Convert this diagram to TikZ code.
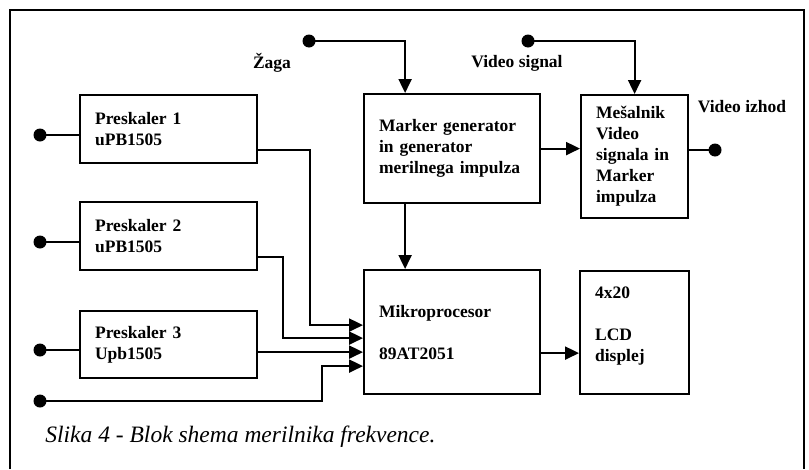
\documentclass[tikz,border=0pt]{standalone}
\usepackage{fontspec}
\setmainfont{Liberation Serif}
\usetikzlibrary{arrows.meta,positioning}

\begin{document}
\begin{tikzpicture}[x=1pt,y=-1pt,
        line width=2.2pt,
        blok/.style={draw, anchor=north west, inner xsep=15pt, inner ysep=0pt, align=left,
            font=\bfseries\fontsize{17.5}{21}\selectfont},
        pin/.style={circle, fill, minimum size=13pt, inner sep=0pt},
        arr/.style={-{Triangle[length=14pt,width=13pt]}},
        oznaka/.style={font=\bfseries\fontsize{17.5}{21}\selectfont}]

        \useasboundingbox (0,0) rectangle (809,469);

        % Draw the frame
        \draw (10,469) -- (10,10) -- (804,10) -- (804,469);

        % Draw the blocks
        \node[blok, text width=147pt, minimum height=68pt] (pre1) at (79,94) {Preskaler 1\\uPB1505};
        \node[blok, text width=147pt, minimum height=68pt] (pre2) at (79,201) {Preskaler 2\\uPB1505};
        \node[blok, text width=147pt, minimum height=67pt] (pre3) at (79,310) {Preskaler 3\\Upb1505};
        \node[blok, text width=146pt, minimum height=109pt] (marker) at (363,93) {Marker generator\\in generator\\merilnega impulza};
        \node[blok, text width=77pt, minimum height=123pt] (mesalnik) at (580,94) {Mešalnik\\Video\\signala in\\Marker\\impulza};
        \node[blok, text width=146pt, minimum height=124pt] (mikro) at (363,269) {Mikroprocesor\\[21pt]89AT2051};
        \node[blok, text width=79pt, minimum height=123pt] (lcd) at (579,270) {4x20\\[21pt]LCD\\displej\\[-4pt]\mbox{}};

        % Draw the pins
        \node[pin] (in1) at (40,135) {};
        \node[pin] (in2) at (40,242) {};
        \node[pin] (in3) at (40,350) {};
        \node[pin] (in4) at (40,401) {};
        \node[pin] (zaga) at (309,41) {};
        \node[pin] (vsig) at (528,41) {};
        \node[pin] (vout) at (715,150) {};

        % Inputs of the prescalers
        \draw (in1.center) -- (in1 -| pre1.west);
        \draw (in2.center) -- (in2 -| pre2.west);
        \draw (in3.center) -- (in3 -| pre3.west);

        % Inputs of the microprocessor
        \coordinate (m1) at ([yshift=7pt]mikro.west);
        \coordinate (m2) at ([yshift=-6pt]mikro.west);
        \coordinate (m3) at ([yshift=-20pt]mikro.west);
        \coordinate (m4) at ([yshift=-34pt]mikro.west);
        \draw[arr] ([yshift=-21pt]pre1.east) -| ([xshift=-53pt]m1) -- (m1);
        \draw[arr] ([yshift=-21pt]pre2.east) -| ([xshift=-80pt]m2) -- (m2);
        \draw[arr] (pre3.east |- m3) -- (m3);
        \draw[arr] (in4.center) -| ([xshift=-41pt]m4) -- (m4);

        % Marker generator and mixer
        \draw[arr] (zaga.center) -| ([xshift=-47pt]marker.north);
        \draw[arr] (vsig.center) -| (mesalnik.north);
        \draw[arr] ([xshift=-47pt]marker.south) -- ([xshift=-47pt]mikro.north);
        \draw[arr] (marker.east) -- (marker.east -| mesalnik.west);
        \draw (vout -| mesalnik.east) -- (vout.center);

        % Microprocessor to display
        \coordinate (ml) at ([yshift=-21pt]mikro.east);
        \draw[arr] (ml) -- (ml -| lcd.west);

        % Labels
        \node[oznaka] (lzaga) at (272,63) {Žaga};
        \node[oznaka] (lvsig) at (517,63) {Video signal};
        \node[oznaka] (lvout) at (742,107) {Video izhod};

        % Caption
        \node[anchor=west, font=\itshape\fontsize{23.5}{28}\selectfont] (slika) at (41,437) {Slika 4 - Blok shema merilnika frekvence.};
    \end{tikzpicture}
\end{document}
